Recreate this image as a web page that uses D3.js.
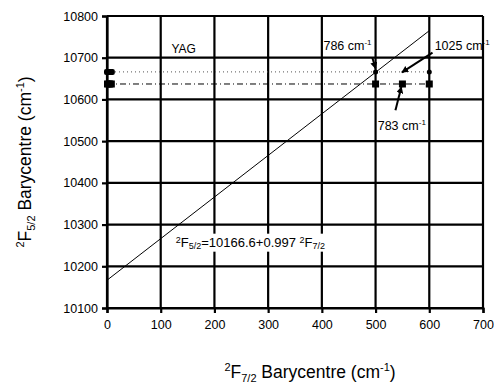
<!DOCTYPE html>
<html>
<head>
<meta charset="utf-8">
<script src="https://cdn.jsdelivr.net/npm/d3@7"></script>
<style>
  body { margin: 0; background: #fff; }
  text { font-family: "Liberation Sans", Arial, sans-serif; fill: #000; }
</style>
</head>
<body>
<script>
var width = 494;
var height = 383;
var margin = { top: 16, right: 11, bottom: 75, left: 107 };

// axis ticks
var xTicks = [0, 100, 200, 300, 400, 500, 600, 700];
var yTicks = [10100, 10200, 10300, 10400, 10500, 10600, 10700, 10800];

// fitted line 2F5/2 = a + b * 2F7/2
var fitIntercept = 10166.6;
var fitSlope = 0.997;
var fitRange = [0, 600];

// the two YAG levels and their points
var upperLevel = 10666;
var lowerLevel = 10637;
var levelRange = [0, 600];
var leftX = [0, 3, 6, 9];
var upperX = [500, 600];
var lowerX = [500, 550, 600];

// annotations: text position and arrow (from -> to), data units
var notes = [
  { label: "786", x: 403, y: 10718, from: [494, 10700], to: [500, 10674] },
  { label: "1025", x: 610, y: 10718, from: [606, 10712], to: [549, 10665] },
  { label: "783", x: 504, y: 10527, from: [537, 10574], to: [548, 10630] }
];

var svg = d3.select("body").append("svg")
  .attr("width", width)
  .attr("height", height);

svg.append("defs").append("marker")
  .attr("id", "head")
  .attr("viewBox", "0 0 10 10")
  .attr("refX", 9)
  .attr("refY", 5)
  .attr("markerWidth", 7)
  .attr("markerHeight", 7)
  .attr("markerUnits", "userSpaceOnUse")
  .attr("orient", "auto")
  .append("path")
  .attr("d", "M0,0L10,5L0,10Z")
  .attr("fill", "#000");

var x = d3.scaleLinear().domain([0, 700])
  .range([margin.left, width - margin.right]);
var y = d3.scaleLinear().domain([10100, 10800])
  .range([height - margin.bottom, margin.top]);

// grid
svg.append("g").selectAll("line.v").data(xTicks).enter().append("line")
  .attr("x1", function (d) { return x(d); })
  .attr("x2", function (d) { return x(d); })
  .attr("y1", y(10100))
  .attr("y2", y(10800))
  .attr("stroke", "#000")
  .attr("stroke-width", 2.2);

svg.append("g").selectAll("line.h").data(yTicks).enter().append("line")
  .attr("x1", x(0))
  .attr("x2", x(700))
  .attr("y1", function (d) { return y(d); })
  .attr("y2", function (d) { return y(d); })
  .attr("stroke", "#000")
  .attr("stroke-width", 2.2);

// axes
var xAxis = svg.append("g")
  .attr("transform", "translate(0," + y(10100) + ")")
  .call(d3.axisBottom(x).tickValues(xTicks).tickSize(5).tickPadding(7));
var yAxis = svg.append("g")
  .attr("transform", "translate(" + x(0) + ",0)")
  .call(d3.axisLeft(y).tickValues(yTicks).tickSize(5).tickPadding(4).tickFormat(d3.format("d")));

[xAxis, yAxis].forEach(function (a) {
  a.select(".domain").attr("stroke-width", 2.2);
  a.selectAll(".tick line").attr("stroke-width", 2.2);
  a.selectAll(".tick text")
    .attr("font-size", 12.5)
    .attr("font-family", "Liberation Sans, Arial, sans-serif");
});

// level lines
svg.append("line")
  .attr("x1", x(levelRange[0])).attr("x2", x(levelRange[1]))
  .attr("y1", y(upperLevel)).attr("y2", y(upperLevel))
  .attr("stroke", "#555").attr("stroke-width", 1)
  .attr("stroke-dasharray", "1,3");

svg.append("line")
  .attr("x1", x(levelRange[0])).attr("x2", x(levelRange[1]))
  .attr("y1", y(lowerLevel)).attr("y2", y(lowerLevel))
  .attr("stroke", "#000").attr("stroke-width", 1)
  .attr("stroke-dasharray", "6,3,1,3");

// fit line
svg.append("line")
  .attr("x1", x(fitRange[0]))
  .attr("y1", y(fitIntercept + fitSlope * fitRange[0]))
  .attr("x2", x(fitRange[1]))
  .attr("y2", y(fitIntercept + fitSlope * fitRange[1]))
  .attr("stroke", "#000")
  .attr("stroke-width", 1);

// points
svg.append("g").selectAll("rect.l").data(leftX).enter().append("rect")
  .attr("x", function (d) { return x(d) - 3; })
  .attr("y", y(upperLevel) - 3)
  .attr("width", 6).attr("height", 6)
  .attr("rx", 2)
  .attr("fill", "#000");

svg.append("g").selectAll("rect.l2").data(leftX).enter().append("rect")
  .attr("x", function (d) { return x(d) - 3; })
  .attr("y", y(lowerLevel) - 3.5)
  .attr("width", 6).attr("height", 7)
  .attr("fill", "#000");

svg.append("g").selectAll("circle").data(upperX).enter().append("circle")
  .attr("cx", function (d) { return x(d); })
  .attr("cy", y(upperLevel))
  .attr("r", 2.5)
  .attr("fill", "#000");

svg.append("g").selectAll("rect.s").data(lowerX).enter().append("rect")
  .attr("x", function (d) { return x(d) - 3.5; })
  .attr("y", y(lowerLevel) - 3.5)
  .attr("width", 7).attr("height", 7)
  .attr("fill", "#000");

// labels
svg.append("text")
  .attr("x", x(120)).attr("y", y(10711))
  .attr("font-size", 12)
  .text("YAG");

// equation sits on a white box that hides the grid behind it
var eqBox = svg.append("rect").attr("fill", "#fff");
var eq = svg.append("text")
  .attr("x", x(128)).attr("y", y(10247))
  .attr("font-size", 13);
eq.append("tspan").attr("font-size", 9).attr("dy", -4).text("2");
eq.append("tspan").attr("dy", 4).text("F");
eq.append("tspan").attr("font-size", 9).attr("dy", 2).text("5/2");
eq.append("tspan").attr("dy", -2).text("=10166.6+0.997 ");
eq.append("tspan").attr("font-size", 9).attr("dy", -4).text("2");
eq.append("tspan").attr("dy", 4).text("F");
eq.append("tspan").attr("font-size", 9).attr("dy", 2).text("7/2");
var bb = eq.node().getBBox();
eqBox.attr("x", bb.x - 2).attr("y", bb.y - 1)
  .attr("width", bb.width + 4).attr("height", bb.height + 2);

notes.forEach(function (n) {
  var t = svg.append("text")
    .attr("x", x(n.x)).attr("y", y(n.y))
    .attr("font-size", 12.5);
  t.append("tspan").text(n.label + " cm");
  t.append("tspan").attr("font-size", 8).attr("dy", -5).text("-1");

  svg.append("line")
    .attr("x1", x(n.from[0])).attr("y1", y(n.from[1]))
    .attr("x2", x(n.to[0])).attr("y2", y(n.to[1]))
    .attr("stroke", "#000")
    .attr("stroke-width", 2)
    .attr("marker-end", "url(#head)");
});

// axis titles
function title(sel, sub) {
  sel.append("tspan").attr("font-size", 11).attr("dy", -7).text("2");
  sel.append("tspan").attr("dy", 7).text("F");
  sel.append("tspan").attr("font-size", 11).attr("dy", 4).text(sub);
  sel.append("tspan").attr("dy", -4).text(" Barycentre (cm");
  sel.append("tspan").attr("font-size", 11).attr("dy", -7).text("-1");
  sel.append("tspan").attr("dy", 7).text(")");
}

var xt = svg.append("text")
  .attr("x", 310).attr("y", 378)
  .attr("text-anchor", "middle")
  .attr("font-size", 17.5);
title(xt, "7/2");

var yt = svg.append("text")
  .attr("transform", "translate(31," + y(10450) + ") rotate(-90)")
  .attr("text-anchor", "middle")
  .attr("font-size", 17.5);
title(yt, "5/2");
</script>
</body>
</html>
